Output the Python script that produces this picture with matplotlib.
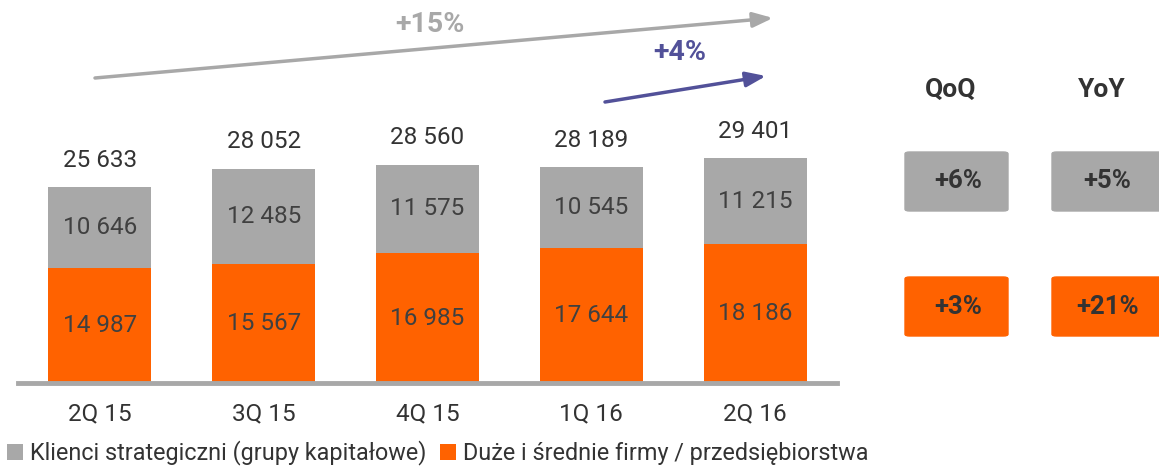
import matplotlib.pyplot as plt
from matplotlib.patches import FancyBboxPatch, FancyArrowPatch
import numpy as np

kwartaly = ["2Q 15", "3Q 15", "4Q 15", "1Q 16", "2Q 16"]
strategiczni = [10646, 12485, 11575, 10545, 11215]
duze_srednie = [14987, 15567, 16985, 17644, 18186]

zmiana_qoq = ["+6%", "+3%"]
zmiana_yoy = ["+5%", "+21%"]
wzrost_dlugi = "+15%"
wzrost_krotki = "+4%"

SZARY = "#A8A8A8"
POMARANCZ = "#FF6200"
FIOLET = "#525199"
TEKST = "#404040"

plt.rcParams['font.family'] = ['Roboto', 'DejaVu Sans']

W, H = 1159, 467


def fx(x):
    return x / W


def fy(y):
    return 1 - y / H


def liczba(v):
    return f"{v:,}".replace(",", " ")


fig = plt.figure(figsize=(W / 100, H / 100), dpi=100)
ax = fig.add_axes([fx(18), fy(383), fx(837) - fx(18), 383 / H])

x = np.arange(len(kwartaly))
sumy = np.array(strategiczni) + np.array(duze_srednie)

ax.bar(x, duze_srednie, width=0.63, color=POMARANCZ, label="Duże i średnie firmy / przedsiębiorstwa")
ax.bar(x, strategiczni, width=0.63, bottom=duze_srednie, color=SZARY,
       label="Klienci strategiczni (grupy kapitałowe)")

for i in range(len(kwartaly)):
    ax.text(x[i], duze_srednie[i] / 2, liczba(duze_srednie[i]), ha="center", va="center",
            fontsize=17.5, color=TEKST)
    ax.text(x[i], duze_srednie[i] + strategiczni[i] / 2, liczba(strategiczni[i]),
            ha="center", va="center", fontsize=17.5, color=TEKST)
    ax.text(x[i], sumy[i] + 3500, liczba(sumy[i]), ha="center", va="center",
            fontsize=17.5, color="#333333")

ax.set_xlim(-0.5, 4.5)
ax.set_ylim(0, 383 / (196 / 25633))
ax.set_xticks(x)
ax.set_xticklabels(kwartaly, fontsize=17.5, color="#333333")
ax.tick_params(axis="x", length=0, pad=14)
ax.set_yticks([])
for s in ["top", "right", "left"]:
    ax.spines[s].set_visible(False)
ax.spines["bottom"].set_color(SZARY)
ax.spines["bottom"].set_linewidth(3.5)

# legenda
uchwyty, etykiety = ax.get_legend_handles_labels()
fig.legend(uchwyty[::-1], etykiety[::-1], loc="center left", bbox_to_anchor=(fx(7), fy(453)),
           ncol=2, frameon=False, fontsize=16.8, handlelength=0.7, handleheight=0.7,
           handletextpad=0.3, columnspacing=0.55, borderaxespad=0, borderpad=0,
           labelcolor="#333333")

# strzałki wzrostu
fig.patches.append(FancyArrowPatch(
    (fx(95), fy(78)), (fx(773), fy(18)), transform=fig.transFigure,
    arrowstyle="-|>,head_length=12,head_width=4.5", color=SZARY, lw=2.5,
    mutation_scale=1, shrinkA=0, shrinkB=0))
fig.text(fx(430), fy(25), wzrost_dlugi, ha="center", va="center", fontsize=20.5,
         fontweight="bold", color=SZARY)

fig.patches.append(FancyArrowPatch(
    (fx(605), fy(102)), (fx(766), fy(76)), transform=fig.transFigure,
    arrowstyle="-|>,head_length=12,head_width=4.5", color=FIOLET, lw=2.5,
    mutation_scale=1, shrinkA=0, shrinkB=0))
fig.text(fx(680), fy(53), wzrost_krotki, ha="center", va="center", fontsize=20.5,
         fontweight="bold", color=FIOLET)

# panel QoQ / YoY
fig.text(fx(951), fy(90), "QoQ", ha="center", va="center", fontsize=19,
         fontweight="bold", color="#333333")
fig.text(fx(1102), fy(90), "YoY", ha="center", va="center", fontsize=19,
         fontweight="bold", color="#333333")

kolory = [SZARY, POMARANCZ]
gory = [152, 277]
for j in range(2):
    for lewo, prawo, tekst in [(905, 1008, zmiana_qoq[j]), (1052, 1165, zmiana_yoy[j])]:
        box = FancyBboxPatch((fx(lewo), fy(gory[j] + 59)), fx(prawo - lewo), 59 / H,
                             boxstyle="round,pad=0,rounding_size=0.004",
                             transform=fig.transFigure, color=kolory[j])
        fig.patches.append(box)
        fig.text(fx((lewo + min(prawo, 1159) + 4) / 2), fy(gory[j] + 29.5), tekst,
                 ha="center", va="center", fontsize=18.5, fontweight="bold", color="#333333")

fig.savefig("out.png", dpi=100)
